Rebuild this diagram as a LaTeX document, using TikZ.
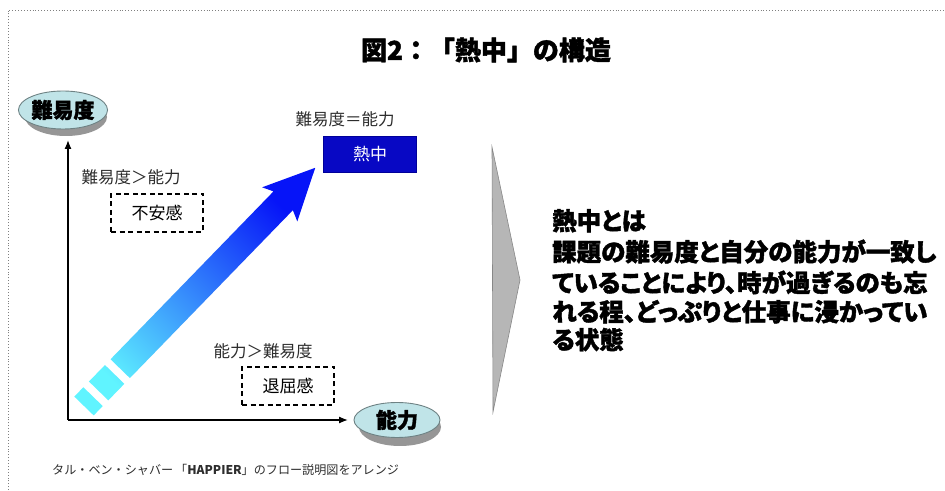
\documentclass[tikz,border=0pt]{standalone}
\usepackage{fontspec}
\setmainfont{Noto Sans CJK JP}
\newfontfamily\heavy{Noto Sans CJK JP}[BoldFeatures={FakeBold=1.6}]
\newfontfamily\heavyp{Noto Sans CJK JP}[BoldFeatures={FakeBold=1.6,RawFeature=+palt}]
\usetikzlibrary{calc,shapes.geometric,arrows.meta}
\definecolor{ellfill}{RGB}{192,228,232}
\definecolor{elldraw}{RGB}{110,130,132}
\definecolor{shadowgray}{RGB}{150,150,150}
\definecolor{hotblue}{RGB}{8,8,196}
\definecolor{arrcyan}{RGB}{96,244,255}
\definecolor{arrmid}{RGB}{58,170,246}
\definecolor{arrblue}{RGB}{6,20,248}
\definecolor{chevfill}{RGB}{182,182,182}
\definecolor{chevdraw}{RGB}{135,135,135}
\definecolor{labgray}{RGB}{45,45,45}
\tikzset{
  axisname/.style={ellipse, fill=ellfill, draw=elldraw, line width=0.9pt, minimum width=82pt, minimum height=38pt, inner sep=0pt, font=\fontsize{21}{21}\heavy\bfseries},
  axisshadow/.style={ellipse, fill=shadowgray, minimum width=82pt, minimum height=38pt, inner sep=0pt},
  condlabel/.style={font=\fontsize{16.5}{16.5}\selectfont, text=labgray, inner sep=0pt},
  dashbox/.style={draw, dashed, dash pattern=on 5pt off 3.5pt, line width=1.3pt, minimum width=92pt, minimum height=38pt, inner sep=0pt, font=\fontsize{17}{17}\selectfont},
  bodytext/.style={anchor=base west, inner sep=0pt, font=\fontsize{24.5}{24.5}\heavyp\bfseries},
  axisline/.style={line width=1.3pt, -{Latex[length=9pt,width=7pt]}},
}
\begin{document}
\begin{tikzpicture}[x=1pt,y=1pt]
\useasboundingbox (0,0) rectangle (945,490);
\fill[white] (0,0) rectangle (945,490);
% border
\coordinate (b1) at (8,0);
\coordinate (b2) at (8,480);
\coordinate (b3) at (945,480);
\draw[gray, dotted, line width=0.9pt] (b1) -- (b2) -- (b3);
% title
\node[font=\fontsize{26}{26}\heavy\bfseries, inner sep=0pt] (title) at (486,440) {図2：「熱中」の構造};
% axes
\coordinate (o) at (68,70);
\coordinate (ytip) at (68,350);
\coordinate (xtip) at (348,70);
\draw[axisline] (o) -- (ytip);
\draw[axisline] (o) -- (xtip);
% axis name ellipses with shadows
\node[axisshadow] (yshadow) at (66,373) {};
\node[axisname] (yname) at (63,380) {難易度};
\node[axisshadow] (xshadow) at (400,63) {};
\node[axisname, minimum width=86pt, minimum height=35pt] (xname) at (397,70) {能力};
% gradient arrow
\coordinate (c0) at (84,84);
\coordinate (s1a) at ($(c0)+(315.85:13.5)$);
\coordinate (s1b) at ($(c0)+(45.85:13)+(315.85:13.5)$);
\coordinate (s1c) at ($(c0)+(45.85:13)+(135.85:13.5)$);
\coordinate (s1d) at ($(c0)+(135.85:13.5)$);
\coordinate (s2a) at ($(c0)+(45.85:21)+(315.85:13.5)$);
\coordinate (s2b) at ($(c0)+(45.85:44)+(315.85:13.5)$);
\coordinate (s2c) at ($(c0)+(45.85:44)+(135.85:13.5)$);
\coordinate (s2d) at ($(c0)+(45.85:21)+(135.85:13.5)$);
\coordinate (m1) at ($(c0)+(45.85:52)+(315.85:13.5)$);
\coordinate (m2) at ($(c0)+(45.85:286)+(315.85:13.5)$);
\coordinate (m3) at ($(c0)+(45.85:281)+(315.85:24.5)$);
\coordinate (tip) at ($(c0)+(45.85:332)$);
\coordinate (m5) at ($(c0)+(45.85:281)+(135.85:24.5)$);
\coordinate (m6) at ($(c0)+(45.85:286)+(135.85:13.5)$);
\coordinate (m7) at ($(c0)+(45.85:52)+(135.85:13.5)$);
\shade[bottom color=arrcyan, middle color=arrmid, top color=arrblue, shading angle=-45]
  (s1a) -- (s1b) -- (s1c) -- (s1d) -- cycle
  (s2a) -- (s2b) -- (s2c) -- (s2d) -- cycle
  (m1) -- (m2) -- (m3) -- (tip) -- (m5) -- (m6) -- (m7) -- cycle;
% condition labels and boxes
\node[condlabel] (l1) at (131,313) {難易度＞能力};
\node[dashbox] (anx) at (157,277) {不安感};
\node[condlabel] (l2) at (345,371) {難易度＝能力};
\node[fill=hotblue, draw=blue!60!black, line width=0.6pt, minimum width=93pt, minimum height=36pt, inner sep=0pt, text=white, font=\fontsize{17}{17}\selectfont] (flow) at (370,336) {熱中};
\node[condlabel] (l3) at (263,139) {能力＞難易度};
\node[dashbox] (bore) at (288,104) {退屈感};
% chevron
\coordinate (ch1) at (492,343);
\coordinate (ch2) at (520,210);
\coordinate (ch3) at (493,78);
\fill[chevfill, draw=chevdraw, line width=0.6pt] (ch1) -- (ch2) -- (ch3) -- cycle;
% body text
\node[bodytext] (t1) at (552,260) {熱中とは};
\node[bodytext] (t2) at (552,229) {課題の難易度と自分の能力が一致し};
\node[bodytext] (t3) at (552,198) {ていることにより、時が過ぎるのも忘};
\node[bodytext] (t4) at (552,169) {れる程、どっぷりと仕事に浸かってい};
\node[bodytext] (t5) at (552,141) {る状態};
% caption
\node[anchor=base west, inner sep=0pt, text=labgray, font=\fontsize{12.1}{12.1}\selectfont] (cap) at (52,16) {タル・ベン・シャバー\,「\textbf{HAPPIER}」のフロー説明図をアレンジ};
\end{tikzpicture}
\end{document}
